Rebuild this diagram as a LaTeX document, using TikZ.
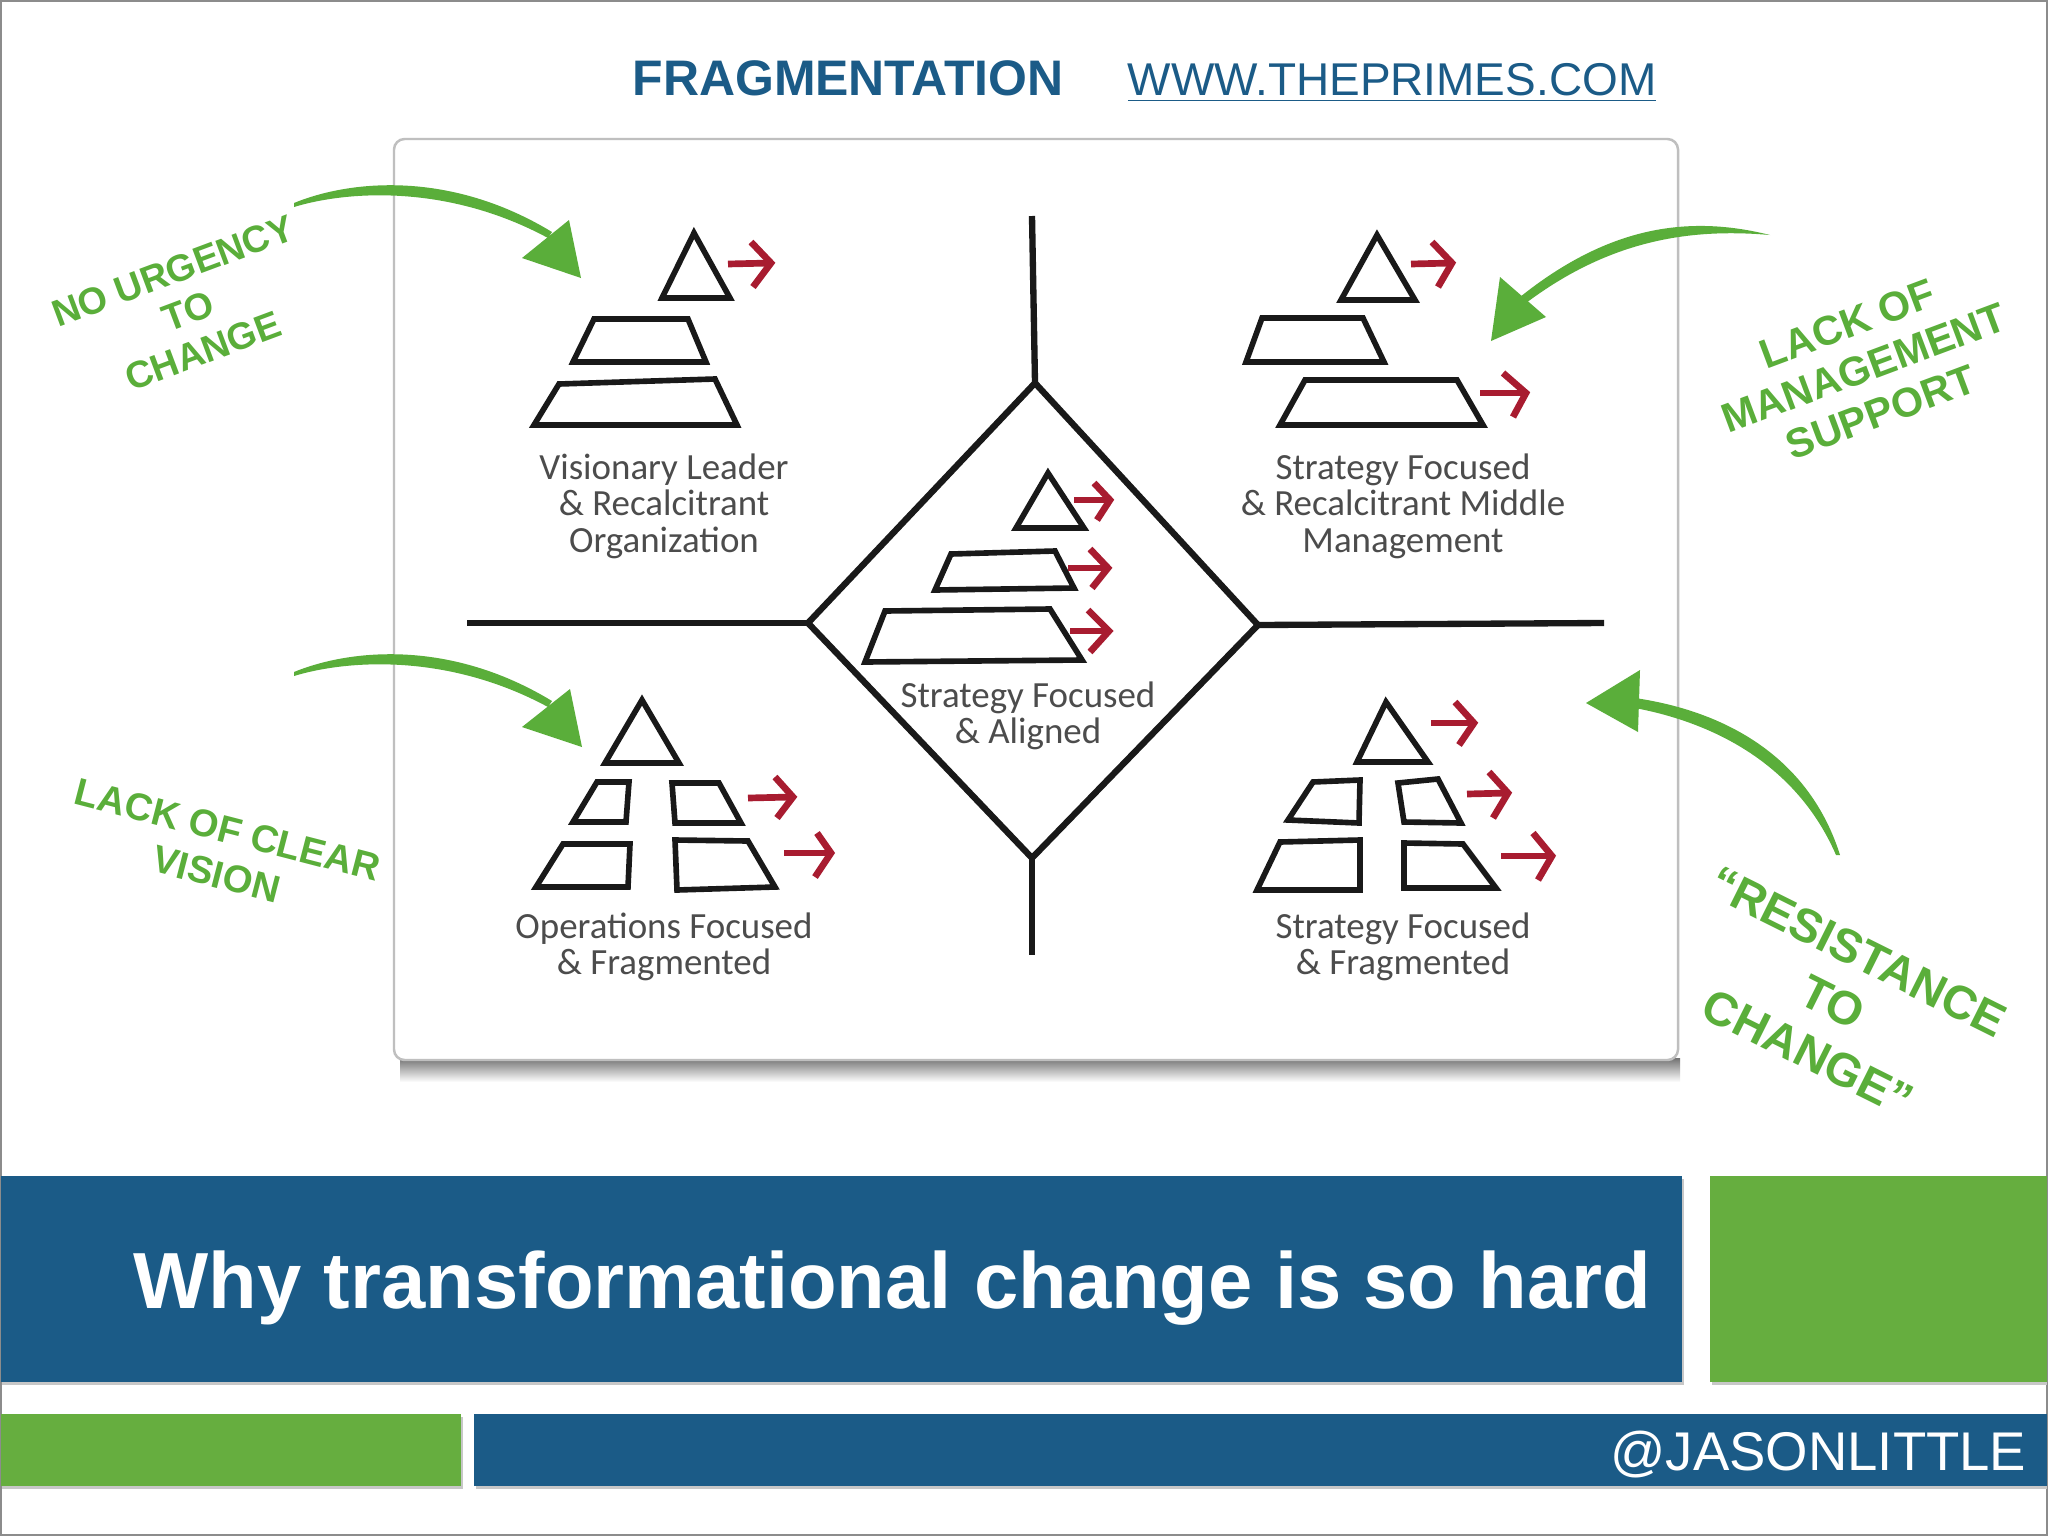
\documentclass[tikz,border=0pt]{standalone}
\usepackage{fontspec}
\setmainfont{Liberation Sans}
\newfontfamily\handfont{Carlito}
\definecolor{barblue}{HTML}{1B5B87}
\definecolor{bargreen}{HTML}{66AE3F}
\definecolor{brushgreen}{HTML}{5AAE3A}
\definecolor{tipred}{HTML}{A81C30}

\tikzset{
  pyr/.style={line width=1.6pt, draw=black!90, line join=miter},
  cross/.style={line width=1.8pt, draw=black!90},
  redarr/.style={line width=1.9pt, draw=tipred},
  brush/.style={fill=brushgreen, draw=none},
  barshadow/.style={fill=black!22},
  hand/.style={inner sep=0pt, align=center, text=black!70, font=\handfont\fontsize{10.5}{10.4}\selectfont},
  tilted/.style 2 args={inner sep=0pt, align=center, text=brushgreen, font=\bfseries\fontsize{#1}{#2}\selectfont}
}

\begin{document}
\begin{tikzpicture}[x=0.01cm, y=-0.01cm]

\useasboundingbox (0,0) rectangle (2048,1536);
\fill [white] (0,0) rectangle (2048,1536);
\draw [black!45, line width=0.4pt] (1,1) rectangle (2047,1535);

\shade [top color=black!55, bottom color=white] (400,1058) rectangle (1680,1082);
\draw [fill=white, draw=black!25, line width=0.7pt, rounded corners=3pt] (394,139) rectangle (1678,1060);

\draw [cross] (1032,216) -- (1035,383);
\draw [cross] (1032,858) -- (1032,955);
\draw [cross] (467,623) -- (808,623);
\draw [cross] (1258,625) -- (1604,623);
\draw [cross] (1035,383) -- (1258,625) -- (1032,858) -- (808,623) -- cycle;

\draw [pyr] (694,233) -- (662,298) -- (730,298) -- cycle;
\draw [pyr] (594,319) -- (688,319) -- (706,362) -- (573,362) -- cycle;
\draw [pyr] (559,384) -- (715,379) -- (737,425) -- (534,425) -- cycle;
\draw [redarr] (728,264) -- (771,263);
\draw [redarr] (751,242) -- (771,263) -- (753,287);
\node [hand] (visionary) at (664,506) {Visionary Leader\\\& Recalcitrant\\Organization};

\draw [pyr] (1377,235) -- (1341,300) -- (1415,300) -- cycle;
\draw [pyr] (1262,318) -- (1363,318) -- (1384,362) -- (1246,362) -- cycle;
\draw [pyr] (1305,380) -- (1457,380) -- (1483,425) -- (1280,425) -- cycle;
\draw [redarr] (1411,264) -- (1452,263);
\draw [redarr] (1432,242) -- (1452,263) -- (1438,287);
\draw [redarr] (1480,393) -- (1526,393);
\draw [redarr] (1503,373) -- (1526,393) -- (1513,417);
\node [hand] (middle) at (1403,506) {Strategy Focused\\\& Recalcitrant Middle\\Management};

\draw [pyr] (1048,473) -- (1016,528) -- (1084,528) -- cycle;
\draw [pyr] (951,554) -- (1055,551) -- (1074,588) -- (935,590) -- cycle;
\draw [pyr] (885,611) -- (1050,609) -- (1082,660) -- (865,662) -- cycle;
\draw [redarr] (1074,500) -- (1110,500);
\draw [redarr] (1094,483) -- (1110,500) -- (1097,520);
\draw [redarr] (1068,568) -- (1108,568);
\draw [redarr] (1090,549) -- (1108,568) -- (1092,588);
\draw [redarr] (1070,631) -- (1109,631);
\draw [redarr] (1088,610) -- (1109,631) -- (1090,652);
\node [hand] (aligned) at (1028,716) {Strategy Focused\\\& Aligned};

\draw [pyr] (642,700) -- (605,763) -- (679,763) -- cycle;
\draw [pyr] (597,782) -- (629,782) -- (626,822) -- (573,822) -- cycle;
\draw [pyr] (672,783) -- (719,783) -- (741,823) -- (675,823) -- cycle;
\draw [pyr] (563,844) -- (630,844) -- (628,887) -- (536,887) -- cycle;
\draw [pyr] (675,840) -- (748,841) -- (775,887) -- (677,890) -- cycle;
\draw [redarr] (748,798) -- (793,797);
\draw [redarr] (775,777) -- (793,797) -- (777,818);
\draw [redarr] (784,853) -- (831,853);
\draw [redarr] (817,833) -- (831,853) -- (815,877);
\node [hand] (operations) at (664,947) {Operations Focused\\\& Fragmented};

\draw [pyr] (1386,702) -- (1357,762) -- (1428,762) -- cycle;
\draw [pyr] (1313,782) -- (1360,780) -- (1359,823) -- (1288,820) -- cycle;
\draw [pyr] (1398,783) -- (1438,779) -- (1461,823) -- (1404,822) -- cycle;
\draw [pyr] (1280,842) -- (1360,840) -- (1360,890) -- (1257,890) -- cycle;
\draw [pyr] (1404,843) -- (1463,844) -- (1496,888) -- (1404,888) -- cycle;
\draw [redarr] (1431,723) -- (1474,723);
\draw [redarr] (1455,702) -- (1474,723) -- (1459,745);
\draw [redarr] (1467,794) -- (1508,793);
\draw [redarr] (1489,772) -- (1508,793) -- (1493,818);
\draw [redarr] (1501,856) -- (1552,856);
\draw [redarr] (1533,833) -- (1552,856) -- (1538,880);
\node [hand] (fragmented) at (1403,947) {Strategy Focused\\\& Fragmented};

\fill [brush] (294,203) .. controls (350,180) and (450,170) .. (552,232) -- (548,238) .. controls (450,185) and (350,190) .. (294,207) -- cycle;
\fill [brush] (581,278) -- (569,220) -- (522,258) -- cycle;
\fill [brush] (294,672) .. controls (350,649) and (450,639) .. (552,701) -- (548,707) .. controls (450,654) and (350,659) .. (294,676) -- cycle;
\fill [brush] (582,747) -- (570,689) -- (522,727) -- cycle;
\fill [brush] (1770,235) .. controls (1690,215) and (1610,225) .. (1520,297) -- (1526,303) .. controls (1610,240) and (1690,228) .. (1770,235) -- cycle;
\fill [brush] (1491,341) -- (1500,277) -- (1546,317) -- cycle;
\fill [brush] (1635,698) .. controls (1730,712) and (1810,760) .. (1840,855) -- (1836,855) .. controls (1800,772) and (1725,725) .. (1635,708) -- cycle;
\fill [brush] (1586,703) -- (1640,670) -- (1638,732) -- cycle;

\node [tilted={10.7}{12.2}, rotate=20.5] (urgency) at (188,311) {NO URGENCY\\TO\\CHANGE};
\node [tilted={11.7}{13.4}, rotate=20.5] (support) at (1864,368) {LACK OF\\MANAGEMENT\\SUPPORT};
\node [tilted={10.9}{13}, rotate=-14.5] (vision) at (222,852) {LACK OF CLEAR\\VISION};
\node [tilted={13.4}{16}, rotate=-26.5] (resistance) at (1833,1002) {“RESISTANCE\\TO\\CHANGE”};

\node [anchor=base, inner sep=0pt, text=barblue, font=\bfseries\fontsize{14.2}{15}\selectfont] (topic) at (848,95) {FRAGMENTATION};
\node [anchor=base, inner sep=0pt, text=barblue, font=\fontsize{13.07}{14}\selectfont] (site) at (1392,95) {\underline{WWW.THEPRIMES.COM}};

\fill [barshadow] (2,1179) rectangle (1684,1385);
\fill [barshadow] (1712,1179) rectangle (2047,1385);
\fill [barshadow] (2,1417) rectangle (463,1489);
\fill [barshadow] (476,1417) rectangle (2047,1489);
\fill [barblue] (1,1176) rectangle (1682,1382);
\fill [bargreen] (1710,1176) rectangle (2047,1382);
\fill [bargreen] (1,1414) rectangle (461,1486);
\fill [barblue] (474,1414) rectangle (2047,1486);

\node [anchor=base west, inner sep=0pt, text=white, font=\bfseries\fontsize{22.64}{24}\selectfont] (headline) at (133,1308) {Why transformational change is so hard};
\node [anchor=base east, inner sep=0pt, text=white, font=\fontsize{15.5}{16}\selectfont] (handle) at (2027,1470) {@JASONLITTLE};

\end{tikzpicture}
\end{document}
